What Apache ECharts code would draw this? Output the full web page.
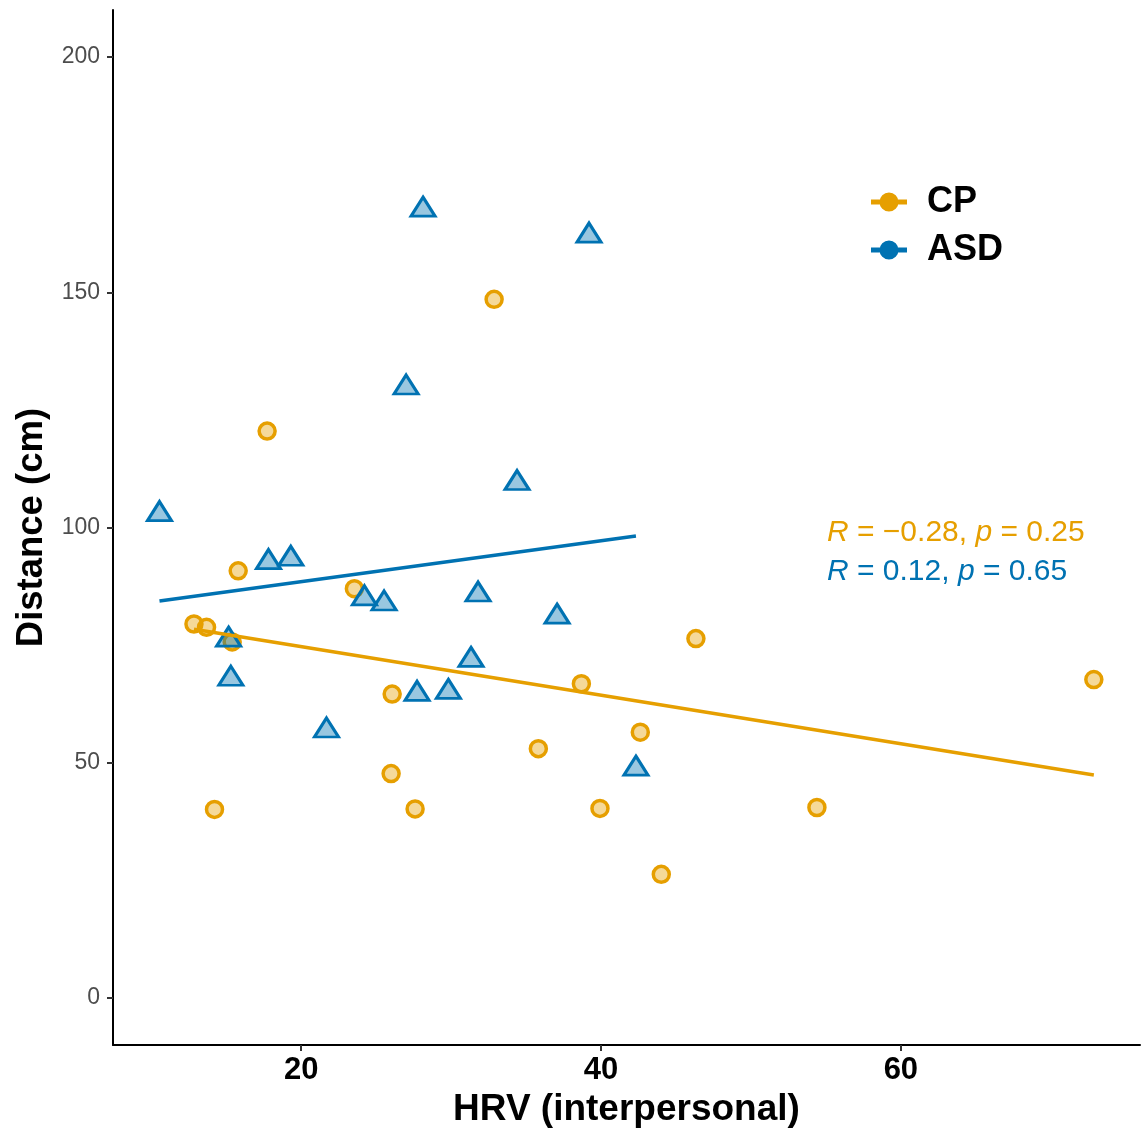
<!DOCTYPE html>
<html>
<head>
<meta charset="utf-8">
<title>Distance vs HRV</title>
<script src="https://cdn.jsdelivr.net/npm/echarts@6/dist/echarts.min.js"></script>
<style>
html, body { margin: 0; padding: 0; background: #fff; }
#main { width: 1145px; height: 1133px; }
</style>
</head>
<body>
<div id="main"></div>
<script>
// CP group (circles): [HRV, Distance]
var cpPoints = [
	[32.87, 148.5], [17.73, 120.5], [15.8, 90.8], [12.85, 79.5], [13.69, 78.8],
	[15.4, 75.7], [14.22, 40.1], [23.55, 87.0], [26.07, 64.6], [26.0, 47.7],
	[27.6, 40.2], [35.82, 53.0], [38.69, 66.8], [42.62, 56.5], [39.93, 40.3],
	[46.33, 76.4], [44.02, 26.3], [54.4, 40.5], [72.87, 67.7]
];
// ASD group (triangles)
var asdPoints = [
	[10.55, 103.5], [17.82, 93.3], [19.31, 94.0], [15.16, 76.8], [15.31, 68.5],
	[21.69, 57.5], [24.22, 85.6], [25.53, 84.5], [27.73, 65.3], [29.82, 65.7],
	[31.33, 72.5], [31.8, 86.4], [37.07, 81.7], [42.33, 49.4], [34.4, 110.1],
	[27.0, 130.4], [28.13, 168.2], [39.2, 162.7]
];
// regression lines, end points
var cpFit = [[12.85, 78.4], [72.87, 47.4]];
var asdFit = [[10.55, 84.4], [42.33, 98.2]];

var xTicks = [20, 40, 60];
var yTicks = [0, 50, 100, 150, 200];
var cpLabel = ['R', ' = \u22120.28, ', 'p', ' = 0.25'];
var asdLabel = ['R', ' = 0.12, ', 'p', ' = 0.65'];

var orange = '#E69F00';
var blue = '#0072B2';
var font = 'Liberation Sans';
var legendIcon = 'path://M0,7 L36,7 L36,12 L0,12 Z M18,0 A9.5,9.5 0 1 1 17.99,0 Z';

function statText(parts, color) {
	return {
		type : 'text',
		style : {
			text : '{i|' + parts[0] + '}{n|' + parts[1] + '}{i|' + parts[2] + '}{n|' + parts[3] + '}',
			fill : color,
			font : '30px "' + font + '"',
			rich : {
				i : { fontStyle : 'italic', fontSize : 30, fontFamily : font, fill : color },
				n : { fontSize : 30, fontFamily : font, fill : color }
			}
		}
	};
}

var myChart = echarts.init(document.getElementById('main'));
var cpText = statText(cpLabel, orange);
cpText.left = 827;
cpText.top = 518;
var asdText = statText(asdLabel, blue);
asdText.left = 827;
asdText.top = 557;

var option = {
	animation : false,
	backgroundColor : '#fff',
	textStyle : { fontFamily : font },
	grid : {
		left : 113,
		right : 5,
		top : 10,
		bottom : 86,
		containLabel : false
	},
	legend : {
		orient : 'vertical',
		left : 871,
		top : 184,
		padding : 0,
		itemWidth : 36,
		itemHeight : 19,
		itemGap : 12,
		icon : legendIcon,
		textStyle : {
			fontSize : 36,
			fontWeight : 'bold',
			color : '#000',
			lineHeight : 35,
			padding : [0, 0, 0, 15]
		},
		data : [
			{ name : 'CP', itemStyle : { color : orange, borderWidth : 0 } },
			{ name : 'ASD', itemStyle : { color : blue, borderWidth : 0 } }
		]
	},
	xAxis : {
		type : 'value',
		min : 7.45,
		max : 75.95,
		name : 'HRV (interpersonal)',
		nameLocation : 'middle',
		nameGap : 44,
		nameTextStyle : { fontSize : 37, fontWeight : 'bold', color : '#000' },
		splitLine : { show : false },
		axisLine : { show : true, onZero : false, lineStyle : { color : '#000', width : 2 } },
		axisTick : { show : true, length : 6, lineStyle : { color : '#333', width : 2 }, customValues : xTicks },
		axisLabel : { fontSize : 31, fontWeight : 'bold', color : '#000', margin : 10, customValues : xTicks }
	},
	yAxis : {
		type : 'value',
		min : -10,
		max : 210,
		name : 'Distance (cm)',
		nameLocation : 'middle',
		nameGap : 62,
		nameTextStyle : { fontSize : 36.5, fontWeight : 'bold', color : '#000' },
		splitLine : { show : false },
		axisLine : { show : true, onZero : false, lineStyle : { color : '#000', width : 2 } },
		axisTick : { show : true, length : 6, lineStyle : { color : '#333', width : 2 }, customValues : yTicks },
		axisLabel : { fontSize : 23, color : '#4d4d4d', margin : 13, customValues : yTicks }
	},
	graphic : [ cpText, asdText ],
	series : [ {
		name : 'CP',
		type : 'scatter',
		symbol : 'circle',
		symbolSize : 16,
		itemStyle : { color : 'rgba(230,159,0,0.4)', borderColor : orange, borderWidth : 3.5, opacity : 1 },
		emphasis : { disabled : true },
		data : cpPoints,
		z : 2
	}, {
		name : 'ASD',
		type : 'scatter',
		symbol : 'triangle',
		symbolSize : [24, 19],
		itemStyle : { color : 'rgba(0,114,178,0.4)', borderColor : blue, borderWidth : 3, opacity : 1 },
		emphasis : { disabled : true },
		data : asdPoints,
		z : 3
	}, {
		name : 'CP fit',
		type : 'line',
		showSymbol : false,
		lineStyle : { color : orange, width : 3.5 },
		data : cpFit,
		z : 4
	}, {
		name : 'ASD fit',
		type : 'line',
		showSymbol : false,
		lineStyle : { color : blue, width : 3.5 },
		data : asdFit,
		z : 4
	} ]
};
myChart.setOption(option);
</script>
</body>
</html>
